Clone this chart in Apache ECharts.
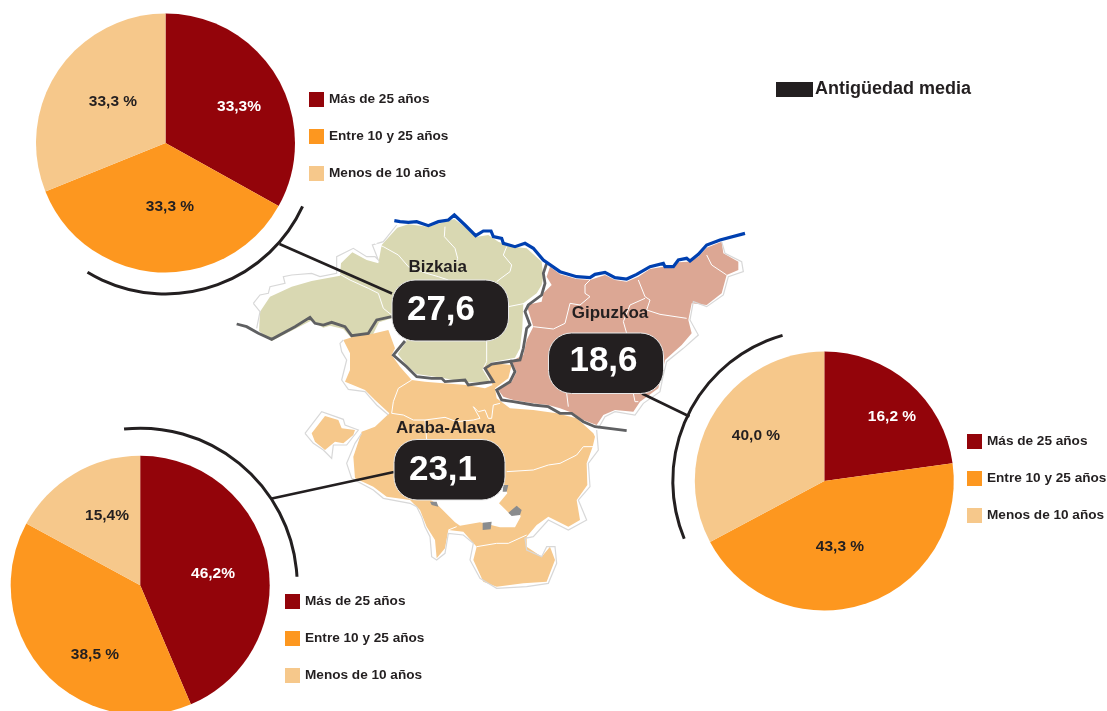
<!DOCTYPE html>
<html><head><meta charset="utf-8">
<style>html,body{margin:0;padding:0;background:#fff}#c{width:1107px;height:711px}</style>
<script src="https://cdn.jsdelivr.net/npm/echarts@6/dist/echarts.min.js"></script>
</head><body><div id="c"></div>
<script>
// Categories and provinces
const categories = ['Más de 25 años', 'Entre 10 y 25 años', 'Menos de 10 años'];
const provinces = ['Bizkaia', 'Gipuzkoa', 'Araba-Álava'];
const averageAge = ['27,6', '18,6', '23,1'];
// Printed percentage labels
const bizkaiaLabels = ['33,3%', '33,3 %', '33,3 %'];
const gipuzkoaLabels = ['16,2 %', '43,3 %', '40,0 %'];
const arabaLabels = ['46,2%', '38,5 %', '15,4%'];
// Slice sizes as drawn in the picture (the source's slices do not follow its printed labels)
const bizkaiaSlices = [33.1, 35.8, 31.1];
const gipuzkoaSlices = [22.8, 44.4, 32.8];
const arabaSlices = [43.6, 39.3, 17.1];
const colors = ['#93040a', '#fd971f', '#f6c88b'];
const INK = '#231f20';
const FONT = '"Liberation Sans",Arial,sans-serif';

// Map outlines, read at 3x zoom; a = crop x origin, b = crop y origin
const z = (a, b, pts) => pts.map(p => [a + p[0] / 3, -(b + p[1] / 3)]);
const Z3 = p => z(235, 205, p), Z4 = p => z(490, 225, p), Z5 = p => z(300, 330, p);

const bizkaiaShape = Z3([[487,68],[520,58],[580,65],[625,52],[658,42],[690,66],[722,96],[760,90],[790,110],[830,125],[875,130],[920,170],[925,215],[920,240],[905,265],[865,295],[862,370],[855,430],[840,458],[770,472],[742,492],[762,525],[760,532],[690,532],[620,518],[545,507],[512,478],[488,447],[515,408],[470,340],[432,352],[412,392],[350,400],[325,372],[285,362],[265,368],[228,347],[180,372],[110,408],[72,378],[75,320],[105,275],[170,245],[230,228],[262,222],[315,212],[318,175],[352,142],[395,165],[430,175],[440,120]]);
const gipuzkoaShape = Z4([[180,125],[210,148],[260,162],[300,165],[345,150],[375,165],[410,170],[445,155],[480,132],[520,125],[550,130],[565,112],[595,110],[625,95],[650,68],[695,50],[700,85],[745,110],[745,135],[710,150],[695,205],[650,240],[605,235],[595,285],[605,325],[575,360],[525,405],[515,450],[505,490],[450,530],[430,560],[375,555],[340,570],[320,600],[280,585],[250,565],[210,550],[175,540],[130,535],[70,525],[40,515],[25,495],[65,470],[80,440],[65,408],[100,390],[110,345],[130,305],[110,240],[155,230],[160,205],[185,180],[170,155]]);
const arabaMain = Z5([[130,30],[160,20],[215,12],[265,0],[285,55],[275,75],[300,110],[335,150],[375,155],[430,160],[500,165],[555,175],[578,165],[550,110],[580,100],[635,105],[625,145],[585,175],[590,205],[630,235],[700,240],[770,250],[830,265],[880,310],[885,320],[878,350],[860,400],[862,465],[830,510],[840,570],[805,590],[745,560],[710,585],[680,620],[680,650],[725,680],[750,650],[765,690],[740,755],[670,760],[590,770],[550,755],[520,690],[530,650],[490,605],[445,600],[435,655],[410,685],[405,630],[380,590],[360,540],[330,510],[260,500],[220,470],[165,445],[160,380],[185,305],[225,290],[268,250],[225,210],[195,180],[135,155],[150,120],[150,70]]);
const arabaIsland = Z5([[35,310],[75,258],[115,270],[125,295],[165,300],[160,315],[130,340],[105,335],[75,360],[45,335]]);
const enclaveShape = Z5([[612,462],[622,490],[597,520],[630,552],[655,530],[662,560],[645,592],[600,592],[540,577],[480,587],[465,577],[410,522],[385,505]]);
const greyBits = [
  Z5([[610,465],[625,465],[620,485],[608,485]]),
  Z5([[625,548],[650,527],[665,540],[660,555],[635,558]]),
  Z5([[548,578],[575,575],[572,598],[548,600]]),
  Z5([[390,515],[410,515],[415,530],[395,525]])
];
const coastLine = Z3([[478,47],[495,50],[520,52],[545,50],[580,62],[610,50],[640,45],[658,30],[690,60],[722,92],[745,78],[768,78],[775,95],[800,100],[805,115],[840,125],[870,115],[895,130],[925,165]])
  .concat(Z4([[210,140],[260,155],[300,158],[315,148],[345,142],[375,158],[410,162],[440,148],[480,125],[520,115],[525,125],[550,125],[565,105],[590,100],[600,108],[625,88],[650,60],[690,45],[765,25]]));
const darkBorders = [
  Z3([[5,357],[35,365],[70,385],[110,403],[180,365],[225,337],[240,355],[265,360],[290,352],[330,365],[350,392],[400,385],[425,345],[470,335]]),
  Z3([[510,408],[475,450],[515,485],[545,515],[590,520],[620,520],[630,530],[690,525],[700,540],[775,530],[750,490],[770,477],[855,465],[865,430],[875,370],[885,360],[870,320],[880,300],[920,270],[930,235],[925,205],[935,175]]),
  Z4([[60,405],[75,440],[60,470],[20,495],[35,525],[70,530],[130,540],[175,545],[210,565],[245,565],[280,590],[315,605],[410,617]])
];
const whiteLines = [
  Z3([[420,115],[445,125],[490,150],[520,185],[575,205],[610,215],[640,225]]),
  Z3([[630,65],[628,95],[660,130],[668,160],[665,170]]),
  Z3([[815,125],[805,150],[830,180],[825,200],[795,222],[785,230]]),
  Z3([[310,205],[345,225],[400,250],[430,265],[445,310],[470,330]]),
  Z3([[755,408],[755,470],[745,490]]),
  Z3([[820,305],[870,295]]),
  Z4([[300,165],[285,180],[285,205],[300,215],[270,240],[240,235],[225,295],[190,312],[130,305]]),
  Z4([[445,165],[465,215],[480,225],[470,255],[510,268],[590,280]]),
  Z4([[465,220],[420,240],[400,290],[410,325]]),
  Z4([[650,90],[665,120],[710,150]]),
  Z4([[230,505],[235,545]]),
  Z4([[430,505],[435,530],[445,530]]),
  Z5([[335,150],[295,175],[280,215],[275,250],[310,255],[340,270],[375,270],[435,262],[470,275],[520,270],[540,265],[520,230],[535,245],[555,240],[565,265],[575,265],[580,225],[600,220]]),
  Z5([[620,425],[700,420],[745,405],[780,400],[830,375],[850,350],[880,350]]),
  Z5([[375,270],[380,330]]),
  Z5([[530,650],[590,640],[625,640],[680,615]]),
  Z5([[445,600],[470,590]])
];
const paleLines = [
  Z3([[55,295],[75,270],[100,265],[105,245],[150,235],[145,215],[170,210],[230,205],[255,215],[305,205],[305,155],[355,130],[395,155],[420,155],[430,165],[412,120],[445,110],[485,60]]),
  Z3([[55,295],[75,320],[65,370]]),
  Z4([[695,50],[705,85],[755,110],[760,140],[715,155],[700,210],[650,245],[610,230],[600,285],[625,330],[580,370],[530,410],[520,450],[510,500],[460,535],[435,570],[375,560],[345,575],[325,610]]),
  Z5([[130,30],[120,40],[125,65],[140,90],[125,150],[145,178],[195,185],[230,225],[265,255]]),
  Z5([[15,310],[65,245],[130,268],[135,285],[175,300],[140,345],[100,345],[95,385],[70,360],[40,340],[15,310]]),
  Z5([[185,310],[165,340],[140,400],[155,445],[220,480],[250,505],[330,520],[350,530],[365,560],[375,590],[390,620],[395,680],[410,690],[435,670],[445,610],[490,615],[520,640],[510,690],[540,745],[590,775],[680,770],[745,760],[770,700],[765,650],[740,650],[725,680],[680,660],[675,625],[700,620],[745,570],[805,600],[860,570],[835,510],[870,470],[865,400],[895,360],[890,300]])
];

const poly = (name, coords) => ({type:'Feature', properties:{name}, geometry:{type:'Polygon', coordinates:[coords.concat([coords[0]])]}});
const multi = (name, list) => ({type:'Feature', properties:{name}, geometry:{type:'MultiPolygon', coordinates:list.map(c => [c.concat([c[0]])])}});
echarts.registerMap('euskadi', {type:'FeatureCollection', features:[
  poly('Bizkaia', bizkaiaShape), poly('Gipuzkoa', gipuzkoaShape),
  multi('Araba-Álava', [arabaMain, arabaIsland]),
  poly('enclave', enclaveShape), multi('grey', greyBits)
]});

const pieSeries = (name, slices, labels, cx, cy, labelPos) => ({
  type:'pie', name, center:[cx, cy], radius:129.5, startAngle:90, clockwise:true, silent:true,
  avoidLabelOverlap:false, z:5,
  data:categories.map((c, i) => ({name:c, value:slices[i], itemStyle:{color:colors[i]},
    label:{color:i === 0 ? '#fff' : INK}})),
  label:{show:true, position:'inside', fontFamily:FONT, fontWeight:'bold', fontSize:15.5,
    formatter:p => labels[p.dataIndex]},
  labelLine:{show:false},
  labelLayout:p => ({x:labelPos[p.dataIndex][0], y:labelPos[p.dataIndex][1], align:'center', verticalAlign:'middle'}),
  emphasis:{disabled:true}
});
const lineSeries = (data, color, width) => ({
  type:'lines', coordinateSystem:'geo', polyline:true, silent:true, z:2,
  data:data.map(coords => ({coords})),
  lineStyle:{color, width, opacity:1, curveness:0}, emphasis:{disabled:true}
});
const legendAt = (left, top) => ({
  left, top, orient:'vertical', padding:0, itemWidth:15, itemHeight:15, itemGap:22, selectedMode:false,
  icon:'rect', data:categories, textStyle:{fontFamily:FONT, fontWeight:'bold', fontSize:13.6, color:INK}
});
const rad = d => d * Math.PI / 180;
const arc = (cx, cy, r, a0, a1) => ({type:'arc', silent:true, z:4,
  shape:{cx, cy, r, startAngle:rad(a0), endAngle:rad(a1), clockwise:true},
  style:{fill:null, stroke:INK, lineWidth:3}});
const stick = (x1, y1, x2, y2) => ({type:'line', silent:true, z:4, shape:{x1, y1, x2, y2}, style:{stroke:INK, lineWidth:2.6}});
const box = (x, y, w, h, text, tx, ty) => [
  {type:'rect', silent:true, z:6, shape:{x, y, width:w, height:h, r:23}, style:{fill:INK, stroke:'#e8e8e8', lineWidth:1}},
  {type:'text', silent:true, z:7, x:tx, y:ty, style:{text, fill:'#fff', align:'center', verticalAlign:'middle',
    font:'bold 35px "Liberation Sans",Arial,sans-serif'}}
];
const nameText = (text, x, y) => ({type:'text', silent:true, z:7, x, y, style:{text, fill:INK, align:'center', verticalAlign:'middle',
  font:'bold 17px "Liberation Sans",Arial,sans-serif'}});

const chart = echarts.init(document.getElementById('c'), null, {renderer:'canvas'});
chart.setOption({
  animation:false, backgroundColor:'#fff',
  title:{text:'Antigüedad media', left:815, top:80, padding:0,
    textStyle:{fontFamily:FONT, fontWeight:'bold', fontSize:18, color:INK}},
  legend:[legendAt(309, 92), legendAt(967, 434), legendAt(285, 594)],
  geo:{map:'euskadi', roam:false, silent:true, aspectScale:1, left:0, top:0, width:1107, height:711,
    boundingCoords:[[0,0],[1107,-711]], label:{show:false},
    itemStyle:{areaColor:'#f6c88b', borderWidth:0, borderColor:'transparent'},
    emphasis:{disabled:true},
    regions:[
      {name:'Bizkaia', itemStyle:{areaColor:'#d9d8b2'}},
      {name:'Gipuzkoa', itemStyle:{areaColor:'#dca794'}},
      {name:'Araba-Álava', itemStyle:{areaColor:'#f6c88b'}},
      {name:'enclave', itemStyle:{areaColor:'#ffffff'}},
      {name:'grey', itemStyle:{areaColor:'#8a8c8e'}}
    ]},
  series:[
    lineSeries(paleLines, '#d8d8d8', 1.2),
    lineSeries(whiteLines, '#ffffff', 1),
    lineSeries(darkBorders, '#5f6062', 2.8),
    lineSeries([coastLine], '#0040b0', 3.2),
    pieSeries(provinces[0], bizkaiaSlices, bizkaiaLabels, 165.5, 143, [[239,107],[170,207],[113,102]]),
    pieSeries(provinces[1], gipuzkoaSlices, gipuzkoaLabels, 824.3, 481, [[892,417],[840,547],[756,436]]),
    pieSeries(provinces[2], arabaSlices, arabaLabels, 140.2, 585.2, [[213,574],[95,655],[107,516]])
  ],
  graphic:[
    {type:'rect', silent:true, shape:{x:776, y:82, width:37, height:15}, style:{fill:INK}},
    arc(165.5, 143, 151, 24.8, 121.1),
    arc(824.3, 481, 151.5, 157.6, 254),
    arc(140.2, 585.2, 157, -95.9, -3.1),
    stick(279.5, 244, 392, 293.5),
    stick(642, 393.5, 689.5, 416.5),
    stick(270.7, 498.7, 394, 472),
    ...box(392, 280, 116.5, 61, averageAge[0], 441, 310.5),
    ...box(548.5, 333, 115, 60.5, averageAge[1], 603.5, 361),
    ...box(394, 439.5, 111, 60.5, averageAge[2], 443, 470),
    nameText(provinces[0], 437.7, 267),
    nameText(provinces[1], 610, 313),
    nameText(provinces[2], 445.7, 428.7)
  ]
});
</script></body></html>
